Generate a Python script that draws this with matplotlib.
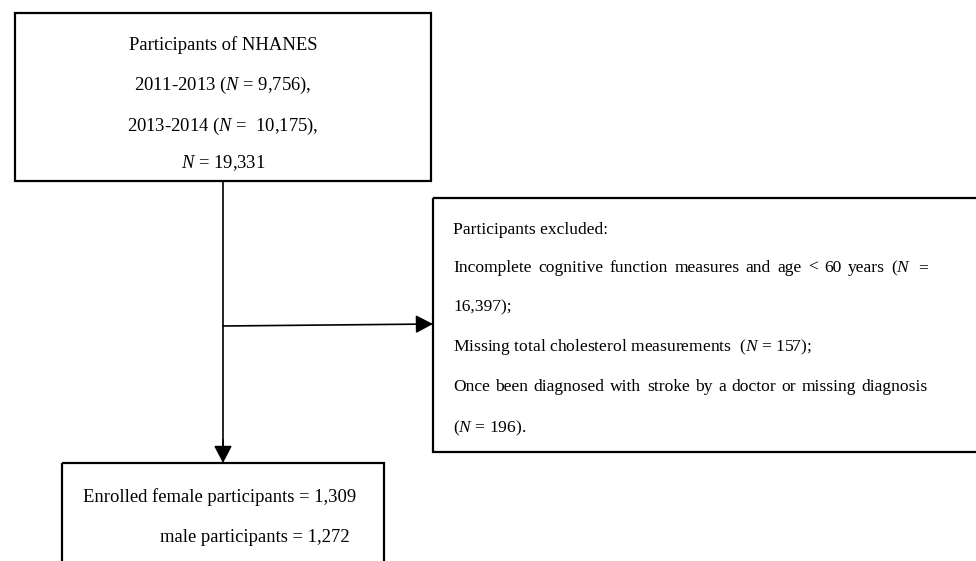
import matplotlib
matplotlib.use("Agg")
import matplotlib.pyplot as plt
from matplotlib.patches import Rectangle, FancyArrowPatch

plt.rcParams['font.family'] = ['Liberation Serif', 'DejaVu Serif']
plt.rcParams['mathtext.fontset'] = 'custom'
plt.rcParams['mathtext.rm'] = 'Liberation Serif'
plt.rcParams['mathtext.it'] = 'Liberation Serif:italic'

# ---- data ----
n_2011 = "9,756"
n_2013 = "10,175"
n_total = "19,331"
n_cog = "16,397"
n_chol = "157"
n_stroke = "196"
n_female = "1,309"
n_male = "1,272"

top_lines = [
    "Participants of NHANES",
    f"2011-2013 ($N$ = {n_2011}),",
    f"2013-2014 ($N$ =  {n_2013}),",
    f"$N$ = {n_total}",
]
excl_lines = [
    "Participants excluded:",
    "Incomplete cognitive function measures and age < 60 years ($N$ =",
    f"{n_cog});",
    f"Missing total cholesterol measurements  ($N$ = {n_chol});",
    "Once been diagnosed with stroke by a doctor or missing diagnosis",
    f"($N$ = {n_stroke}).",
]
justify = [False, True, False, False, True, False]
bottom_lines = [
    f"Enrolled female participants = {n_female}",
    f"male participants = {n_male}",
]

W, H = 976, 561
fig = plt.figure(figsize=(W / 100, H / 100), dpi=100)
ax = fig.add_axes([0, 0, 1, 1])
ax.set_xlim(0, W)
ax.set_ylim(H, 0)
ax.axis('off')

lw = 1.6
fs = 13.4
fs_ex = 12.6

# boxes
ax.add_patch(Rectangle((15, 13), 416, 168, fill=False, lw=lw, ec='black'))
ax.add_patch(Rectangle((433, 198), 545, 254, fill=False, lw=lw, ec='black'))
ax.add_patch(Rectangle((62, 463), 322, 120, fill=False, lw=lw, ec='black'))

# connectors
astyle = '-|>,head_length=10.5,head_width=5.5'
ax.plot([223, 223], [181, 452], color='black', lw=1.2)
ax.add_patch(FancyArrowPatch((223, 440), (223, 463), arrowstyle=astyle,
                             mutation_scale=1, color='black', lw=1.2, shrinkA=0, shrinkB=0))
ax.add_patch(FancyArrowPatch((223, 326), (433, 324), arrowstyle=astyle,
                             mutation_scale=1, color='black', lw=1.2, shrinkA=0, shrinkB=0))

# top box text
for y, t in zip([45, 85, 126, 163], top_lines):
    ax.text(223, y, t, ha='center', va='center', fontsize=fs)

# exclusion box text (justified lines)
fig.canvas.draw()
renderer = fig.canvas.get_renderer()
x0, x1 = 453, 928
for y, t, j in zip([230, 268, 307, 347, 387, 428], excl_lines, justify):
    if not j:
        ax.text(x0, y, t, ha='left', va='center', fontsize=fs_ex)
        continue
    words = t.split(' ')
    arts = [ax.text(0, y, w, ha='left', va='center', fontsize=fs_ex) for w in words]
    inv = ax.transData.inverted()
    widths = []
    for a in arts:
        bb = a.get_window_extent(renderer)
        p0 = inv.transform((bb.x0, bb.y0))
        p1 = inv.transform((bb.x1, bb.y0))
        widths.append(p1[0] - p0[0])
    gap = (x1 - x0 - sum(widths)) / (len(words) - 1)
    x = x0
    for a, wd in zip(arts, widths):
        a.set_x(x)
        x += wd + gap

# bottom box text
ax.text(83, 497, bottom_lines[0], ha='left', va='center', fontsize=fs)
ax.text(350, 537, bottom_lines[1], ha='right', va='center', fontsize=fs)

fig.savefig("out.png", dpi=100)
